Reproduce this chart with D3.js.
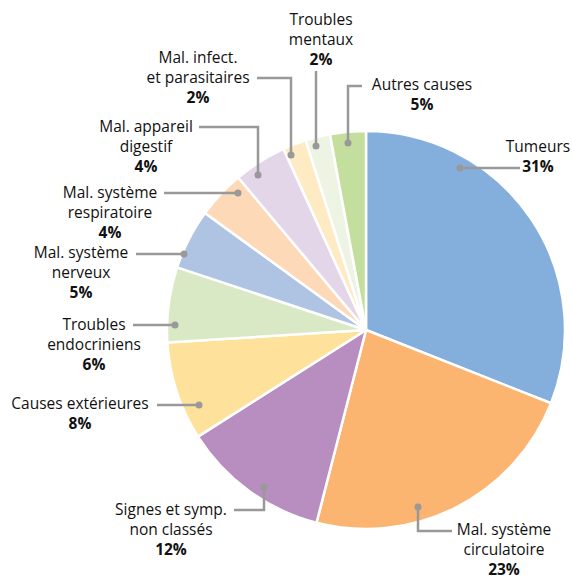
<!DOCTYPE html>
<html><head><meta charset="utf-8">
<script src="https://cdn.jsdelivr.net/npm/d3@7"></script>
<style>
html,body{margin:0;padding:0;background:#fff;}
text{font-family:"Open Sans",sans-serif;font-size:15.5px;fill:#111;}
</style></head><body>
<svg id="c" width="572" height="577"></svg>
<script>
const categories = ["Tumeurs","Mal. système circulatoire","Signes et symp. non classés","Causes extérieures","Troubles endocriniens","Mal. système nerveux","Mal. système respiratoire","Mal. appareil digestif","Mal. infect. et parasitaires","Troubles mentaux","Autres causes"];
const values = [31, 23, 12, 8, 6.1, 4.9, 3.9, 4.3, 1.9, 2, 2.9];
const percentLabels = ["31%","23%","12%","8%","6%","5%","4%","4%","2%","2%","5%"];
const labelLines = [["Tumeurs"],["Mal. système","circulatoire"],["Signes et symp.","non classés"],["Causes extérieures"],["Troubles","endocriniens"],["Mal. système","nerveux"],["Mal. système","respiratoire"],["Mal. appareil","digestif"],["Mal. infect.","et parasitaires"],["Troubles","mentaux"],["Autres causes"]];
const colors = ["#84aedb","#fbb571","#b88dbf","#fee29b","#d9e8c5","#afc4e2","#fdd9b8","#e4d6e9","#feebc4","#eef4e4","#c4df9d"];

// annotation layout: label centre x, first line y, leader polyline (dot first)
const layout = [
  {x:538, y:147, lead:[[460,168],[520,168]]},
  {x:504, y:530, lead:[[418,507],[418,531],[452,531]]},
  {x:171, y:510, lead:[[264,487],[264,510],[234,510]]},
  {x:80,  y:404, lead:[[199,405],[157,405]]},
  {x:94,  y:325, lead:[[175,325],[133,325]]},
  {x:81,  y:253, lead:[[184,254],[136,254]]},
  {x:110, y:193, lead:[[238,193],[164,193]]},
  {x:146, y:127, lead:[[258,175],[258,127],[199,127]]},
  {x:198, y:58,  lead:[[291,155],[291,78],[257,78]]},
  {x:321, y:20,  lead:[[316,146],[316,71]]},
  {x:422, y:85,  lead:[[348,143],[348,86],[362,86]]}
];

const svg = d3.select("#c");
const cx = 366, cy = 330, R = 199;
const pie = d3.pie().sort(null).value(d=>d)(values);
const arc = d3.arc().innerRadius(0).outerRadius(R);
const g = svg.append("g").attr("transform",`translate(${cx},${cy})`);
g.selectAll("path").data(pie).join("path")
  .attr("d",arc).attr("fill",(d,i)=>colors[i])
  .attr("stroke","#fff").attr("stroke-width",2.5).attr("stroke-linejoin","round");

const line = d3.line();
svg.selectAll("path.lead").data(layout).join("path").attr("class","lead")
  .attr("d",d=>line(d.lead)).attr("fill","none").attr("stroke","#999").attr("stroke-width",2.5);
svg.selectAll("circle.dot").data(layout).join("circle").attr("class","dot")
  .attr("cx",d=>d.lead[0][0]).attr("cy",d=>d.lead[0][1]).attr("r",3.5).attr("fill","#999");

const lh = 19.8;
layout.forEach((L,i)=>{
  const t = svg.append("text").attr("text-anchor","middle");
  const lines = labelLines[i];
  lines.forEach((s,j)=>{
    t.append("tspan").attr("x",L.x).attr("y",L.y + j*lh).attr("dy","0.35em").text(s);
  });
  t.append("tspan").attr("x",L.x).attr("y",L.y + lines.length*lh).attr("dy","0.35em")
    .attr("font-weight","bold").text(percentLabels[i]);
});
</script></body></html>
